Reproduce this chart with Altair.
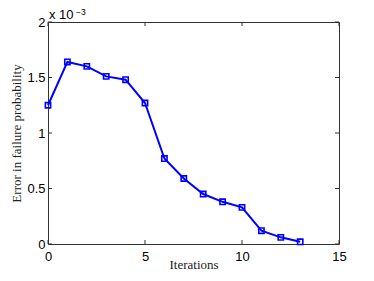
import altair as alt
import pandas as pd

iterations = list(range(14))
error_e3 = [1.25, 1.64, 1.60, 1.51, 1.48, 1.27, 0.77, 0.59, 0.45, 0.38, 0.33, 0.12, 0.06, 0.02]
x_ticks = [0, 5, 10, 15]
y_ticks = [0, 0.5, 1, 1.5, 2]
exp_base = ["x 10"]
exp_power = ["\u22123"]

W, H = 291, 222
BOX = "#333333"
BLUE = "#0000ff"

df = pd.DataFrame({"it": iterations, "err": error_e3})
xs = alt.Scale(domain=[0, 15], nice=False, zero=False)
ys = alt.Scale(domain=[0, 2], nice=False, zero=False)

base = alt.Chart(df)
line = base.mark_line(color=BLUE, strokeWidth=2).encode(
    x=alt.X("it:Q", scale=xs, axis=alt.Axis(
        values=x_ticks, title="Iterations", labelExpr="datum.value",
        labelPadding=6, titleX=W / 2, titleY=14, titleBaseline="top", labelFlush=False)),
    y=alt.Y("err:Q", scale=ys, axis=alt.Axis(
        values=y_ticks, title="Error in failure probability", labelExpr="datum.value",
        labelPadding=3, titleX=-25, titleY=H / 2, labelFlush=False)),
)
pts = base.mark_point(shape="square", filled=False, color=BLUE, size=28,
                      strokeWidth=1.6, opacity=1).encode(x="it:Q", y="err:Q")

xt_df = pd.DataFrame({"t": x_ticks})
yt_df = pd.DataFrame({"t": y_ticks})
xt_bot = alt.Chart(xt_df).mark_rule(color=BOX, strokeWidth=1).encode(
    x=alt.X("t:Q", scale=xs), y=alt.value(H), y2=alt.value(H - 4))
xt_top = alt.Chart(xt_df).mark_rule(color=BOX, strokeWidth=1).encode(
    x=alt.X("t:Q", scale=xs), y=alt.value(0), y2=alt.value(4))
yt_left = alt.Chart(yt_df).mark_rule(color=BOX, strokeWidth=1).encode(
    y=alt.Y("t:Q", scale=ys), x=alt.value(0), x2=alt.value(4))
yt_right = alt.Chart(yt_df).mark_rule(color=BOX, strokeWidth=1).encode(
    y=alt.Y("t:Q", scale=ys), x=alt.value(W), x2=alt.value(W - 4))

exp1 = alt.Chart(pd.DataFrame({"s": exp_base})).mark_text(
    align="left", baseline="alphabetic", font="Liberation Sans", fontSize=13, color="black"
).encode(text="s:N", x=alt.value(1), y=alt.value(-3))
exp2 = alt.Chart(pd.DataFrame({"s": exp_power})).mark_text(
    align="left", baseline="alphabetic", font="Liberation Sans", fontSize=8.5, color="black"
).encode(text="s:N", x=alt.value(28), y=alt.value(-7))

chart = alt.layer(xt_bot, xt_top, yt_left, yt_right, line, pts, exp1, exp2).properties(
    width=W, height=H,
    autosize=alt.AutoSizeParams(type="none"),
    padding={"left": 40, "top": 14, "right": 27, "bottom": 29},
    background="white",
).configure_view(
    stroke=BOX, strokeWidth=1
).configure_axis(
    domain=False, ticks=False, grid=False,
    labelFont="Liberation Sans", labelFontSize=13, labelColor="black",
    titleFont="Liberation Serif", titleFontSize=13, titleFontWeight="normal", titleColor="#222",
)

chart.save("out.html", embed_options={"renderer": "svg", "actions": False})
